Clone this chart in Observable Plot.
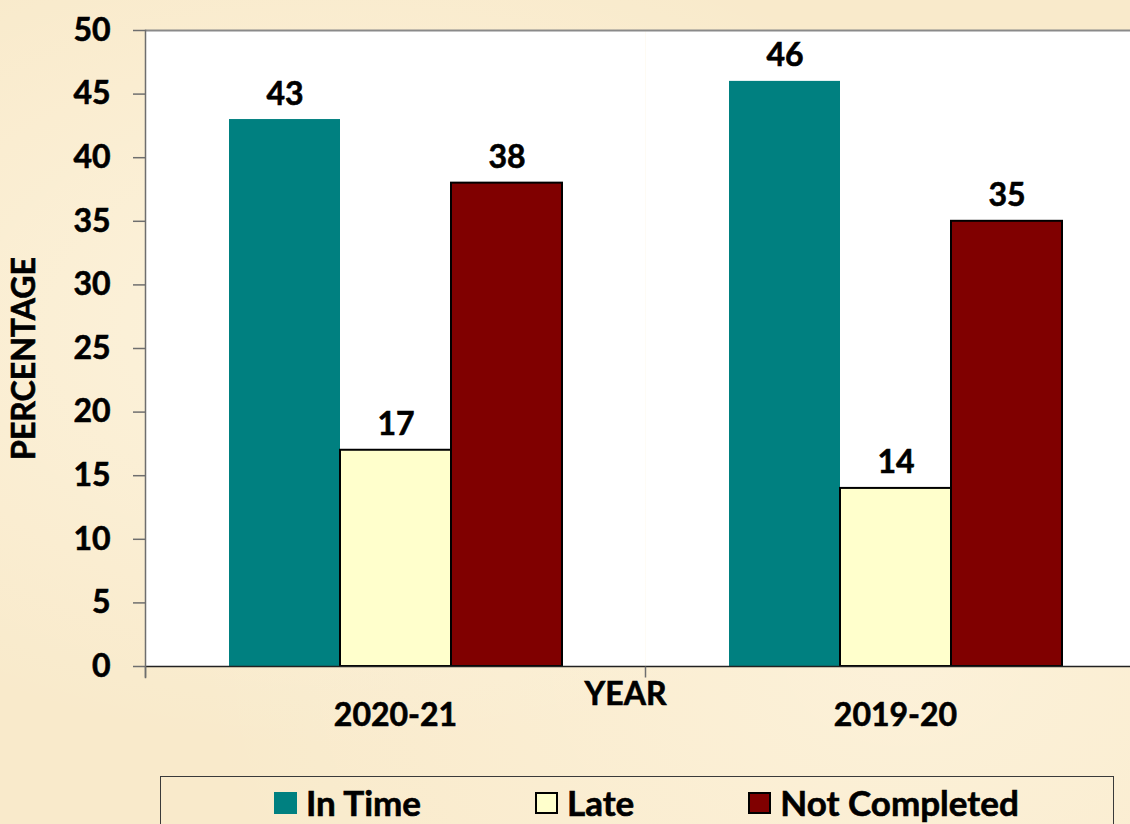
<!DOCTYPE html>
<html>
<head>
<meta charset="utf-8">
<script src="https://cdn.jsdelivr.net/npm/d3@7"></script>
<script src="https://cdn.jsdelivr.net/npm/@observablehq/plot@0.6"></script>
<style>
  html, body { margin: 0; padding: 0; overflow: hidden; }
  body {
    width: 1130px; height: 824px;
    background-color: #f9eacb;
    background-image: radial-gradient(ellipse at 30% 40%, rgba(255,250,235,0.55), rgba(255,250,235,0) 60%),
                      radial-gradient(ellipse at 80% 80%, rgba(255,248,230,0.5), rgba(255,248,230,0) 55%);
    font-family: Lato, "Open Sans", sans-serif;
    font-weight: bold;
    color: #000;
  }
  #chart svg { display: block; }
  #chart svg text { stroke: #000; stroke-width: 0.6px; }
  #legend {
    box-sizing: border-box;
    margin-left: 160px;
    margin-top: 6px;
    width: 954px;
    height: 60px;
    border: 1.5px solid #3a3a3a;
    display: flex;
    align-items: flex-start;
    padding-left: 113px;
    padding-top: 8px;
    gap: 114px;
  }
  .item { display: flex; align-items: center; font-size: 35px; line-height: 35px; -webkit-text-stroke: 0.6px #000; }
  .sw { box-sizing: border-box; width: 23px; height: 22px; margin-right: 9px; }
</style>
</head>
<body>
<div id="chart"></div>
<div id="legend"></div>
<script>
const years = ["2020-21", "2019-20"];
const series = ["In Time", "Late", "Not Completed"];
const inTime = [43, 46];
const late = [17, 14];
const notCompleted = [38, 35];
const colors = ["#008080", "#ffffcc", "#800000"];
const yTicks = [0, 5, 10, 15, 20, 25, 30, 35, 40, 45, 50];

const values = [inTime, late, notCompleted];
const data = [];
years.forEach((yr, i) => series.forEach((s, j) => data.push({year: yr, series: s, value: values[j][i]})));

const tickSymbol = { draw(ctx) { ctx.moveTo(0, 0); ctx.lineTo(0, 11); } };

const chart = Plot.plot({
  width: 1145,
  height: 770,
  marginLeft: 145,
  marginRight: 0,
  marginTop: 30,
  marginBottom: 104,
  style: { background: "transparent", maxWidth: "none", fontFamily: "Lato, 'Open Sans', sans-serif", fontSize: "32px", fontWeight: "bold", color: "black" },
  fx: { domain: years, padding: 0 },
  x: { domain: series, paddingInner: 0, paddingOuter: 0.75, axis: null },
  y: { domain: [0, 50] },
  color: { domain: series, range: colors },
  marks: [
    Plot.frame({ fill: "white", stroke: "none" }),
    Plot.ruleY([50], { stroke: "#8a8a8a", strokeWidth: 2 }),
    Plot.barY(data.filter(d => d.series === "In Time"), { fx: "year", x: "series", y: "value", fill: "series" }),
    Plot.barY(data.filter(d => d.series !== "In Time"), { fx: "year", x: "series", y: "value", fill: "series", stroke: "black", strokeWidth: 2 }),
    Plot.text(data, { fx: "year", x: "series", y: "value", text: d => String(d.value), lineAnchor: "bottom", dy: -15, fill: "black" }),
    Plot.ruleY([0], { stroke: "#222", strokeWidth: 1.5 }),
    Plot.frame({ anchor: "left", stroke: "#6e6e6e", strokeWidth: 1.5, insetBottom: -11, facet: "super" }),
    Plot.dot(years, { fx: d => d, frameAnchor: "bottom-left", symbol: tickSymbol, stroke: "#6e6e6e", strokeWidth: 1.5, fill: "none" }),
    Plot.axisY({ ticks: yTicks, tickSize: 12, tickPadding: 23, stroke: "#6e6e6e", strokeWidth: 1.5, fill: "black", label: null }),
    Plot.axisFx({ anchor: "bottom", tickSize: 0, tickPadding: 37, fill: "black", label: null }),
    Plot.text(["PERCENTAGE"], { text: d => d, frameAnchor: "left", textAnchor: "middle", lineAnchor: "middle", rotate: -90, dx: -121, dy: 10, fill: "black", facet: "super" }),
    Plot.text(["YEAR"], { text: d => d, frameAnchor: "bottom", textAnchor: "middle", lineAnchor: "middle", dx: -20, dy: 28, fill: "black", facet: "super" })
  ]
});
document.getElementById("chart").appendChild(chart);

const legend = document.getElementById("legend");
series.forEach((s, j) => {
  const item = document.createElement("div");
  item.className = "item";
  const sw = document.createElement("span");
  sw.className = "sw";
  sw.style.background = colors[j];
  if (j > 0) sw.style.border = "2px solid #000";
  const label = document.createElement("span");
  label.textContent = s;
  item.appendChild(sw);
  item.appendChild(label);
  legend.appendChild(item);
});
</script>
</body>
</html>
